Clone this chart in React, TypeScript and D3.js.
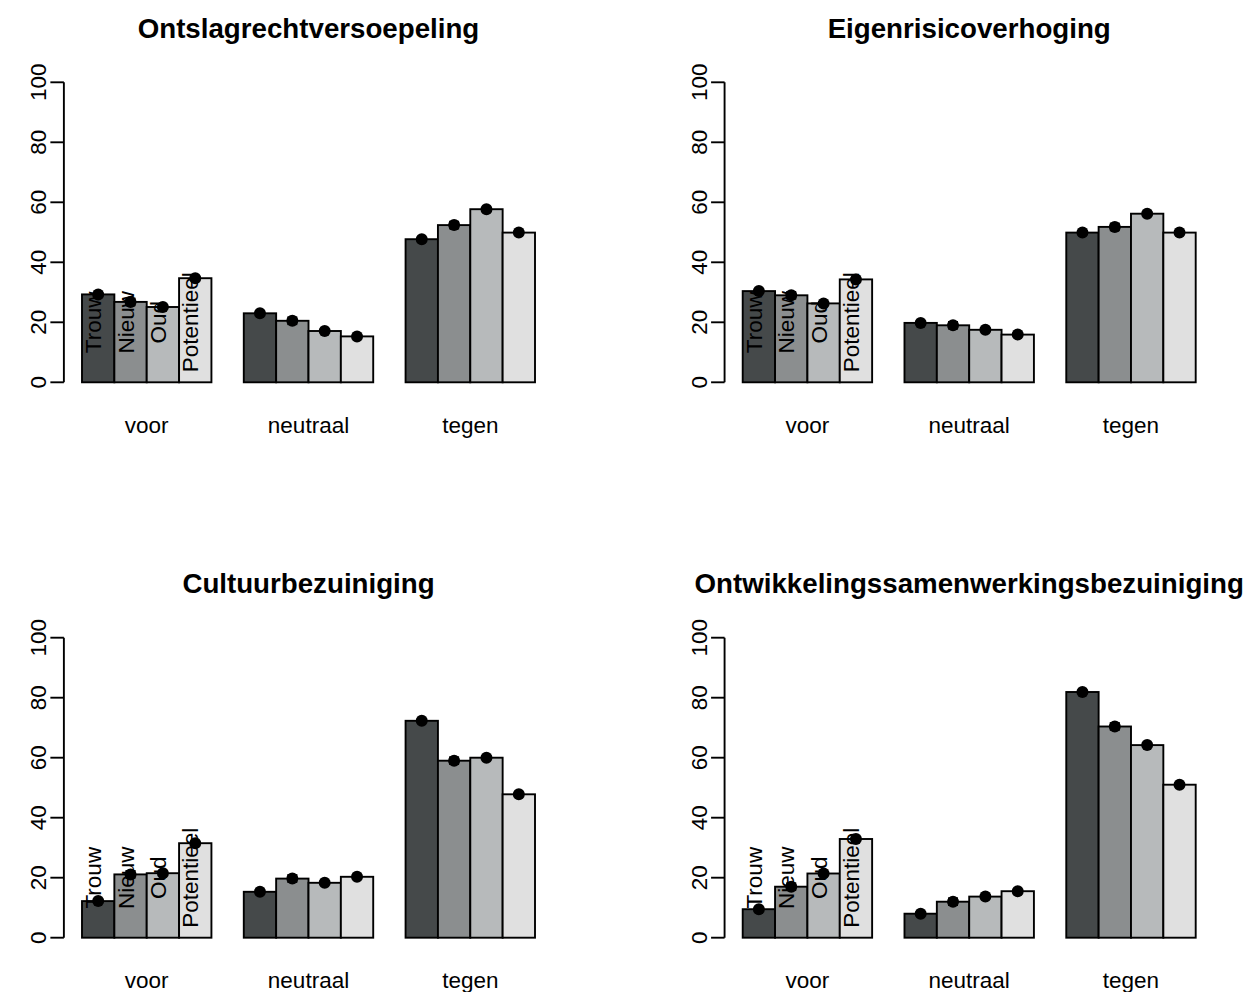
import React from "react";
import * as d3 from "d3";

const groups = ["voor", "neutraal", "tegen"];
const seriesNames = ["Trouw", "Nieuw", "Oud", "Potentieel"];
const seriesColors = ["#45494a", "#8b8e8f", "#b7babb", "#e0e0e0"];
const yTicks = [0, 20, 40, 60, 80, 100];

const titles = [
  "Ontslagrechtversoepeling",
  "Eigenrisicoverhoging",
  "Cultuurbezuiniging",
  "Ontwikkelingssamenwerkingsbezuiniging",
];

// values per panel: [group][series]
const ontslag = [
  [29.3, 26.8, 25.1, 34.7],
  [23.0, 20.5, 17.1, 15.3],
  [47.7, 52.4, 57.7, 49.9],
];
const eigenrisico = [
  [30.4, 29.0, 26.3, 34.3],
  [19.8, 19.0, 17.5, 15.9],
  [49.9, 51.8, 56.2, 49.9],
];
const cultuur = [
  [12.2, 21.1, 21.5, 31.5],
  [15.3, 19.7, 18.3, 20.3],
  [72.3, 59.0, 60.0, 47.8],
];
const ontwikkeling = [
  [9.5, 17.0, 21.4, 32.9],
  [8.0, 12.0, 13.7, 15.5],
  [81.9, 70.4, 64.2, 51.0],
];
// half-width of the confidence interval per series
const ciHalf = [0.4, 1.1, 0.4, 0.4];

const panelData = [ontslag, eigenrisico, cultuur, ontwikkeling];

const FONT = "'Liberation Sans', Arial, Helvetica, sans-serif";
const FS = 22.5;
const LW = 1.9;

function Panel({ data, title, col, row }: { data: number[][]; title: string; col: number; row: number }) {
  const dx = col * 660.7;
  const dy = row * 555.4;
  // bar units: 1..15 (space 1 before each group, width 1)
  const x = d3.scaleLinear().domain([1, 15]).range([82 + dx, 535 + dx]);
  const y = d3.scaleLinear().domain([0, 100]).range([382.3 + dy, 82.3 + dy]);
  const plotLeft = x(0.44);
  const plotRight = x(15.56);
  const axisX = plotLeft;

  const bars: { left: number; right: number; v: number; s: number; g: number }[] = [];
  data.forEach((vals, g) => {
    vals.forEach((v, s) => {
      const l = 1 + g * 5 + s;
      bars.push({ left: l, right: l + 1, v, s, g });
    });
  });

  return (
    <g>
      <text
        x={(plotLeft + plotRight) / 2}
        y={37.5 + dy}
        textAnchor="middle"
        fontFamily={FONT}
        fontWeight="bold"
        fontSize={27.7}
      >
        {title}
      </text>
      {/* y axis */}
      <line x1={axisX} x2={axisX} y1={y(0)} y2={y(100)} stroke="#000" strokeWidth={LW} />
      {yTicks.map((t) => (
        <g key={t}>
          <line x1={axisX - 13.5} x2={axisX} y1={y(t)} y2={y(t)} stroke="#000" strokeWidth={LW} />
          <text
            transform={`translate(${axisX - 18},${y(t)}) rotate(-90)`}
            textAnchor="middle"
            fontFamily={FONT}
            fontSize={FS}
          >
            {t}
          </text>
        </g>
      ))}
      {/* bars */}
      {bars.map((b, i) => (
        <rect
          key={i}
          x={x(b.left)}
          y={y(b.v)}
          width={x(b.right) - x(b.left)}
          height={y(0) - y(b.v)}
          fill={seriesColors[b.s]}
          stroke="#000"
          strokeWidth={LW}
        />
      ))}
      {/* series labels in first group */}
      {seriesNames.map((n, s) => {
        const cx = x(1 + s + 0.5);
        return (
          <text
            key={n}
            transform={`translate(${cx + 3},${y(20)}) rotate(-90)`}
            textAnchor="middle"
            fontFamily={FONT}
            fontSize={FS}
          >
            {n}
          </text>
        );
      })}
      {/* error bars and points */}
      {bars.map((b, i) => {
        const cx = x(b.left + 0.5);
        const h = ciHalf[b.s];
        return (
          <g key={"p" + i}>
            <line x1={cx} x2={cx} y1={y(b.v - h)} y2={y(b.v + h)} stroke="#000" strokeWidth={2} />
            <line x1={cx - 5} x2={cx + 5} y1={y(b.v - h)} y2={y(b.v - h)} stroke="#000" strokeWidth={2} />
            <line x1={cx - 5} x2={cx + 5} y1={y(b.v + h)} y2={y(b.v + h)} stroke="#000" strokeWidth={2} />
            <circle cx={cx} cy={y(b.v)} r={6} fill="#000" />
          </g>
        );
      })}
      {/* group labels */}
      {groups.map((g, gi) => (
        <text
          key={g}
          x={x(1 + gi * 5 + 2)}
          y={433 + dy}
          textAnchor="middle"
          fontFamily={FONT}
          fontSize={FS}
        >
          {g}
        </text>
      ))}
    </g>
  );
}

export default function App() {
  return (
    <svg
      width={1259}
      height={992}
      style={{ position: "absolute", left: 0, top: 0, background: "#fff" }}
    >
      <rect x={0} y={0} width={1259} height={992} fill="#fff" />
      {panelData.map((d, i) => (
        <Panel key={i} data={d} title={titles[i]} col={i % 2} row={Math.floor(i / 2)} />
      ))}
    </svg>
  );
}
